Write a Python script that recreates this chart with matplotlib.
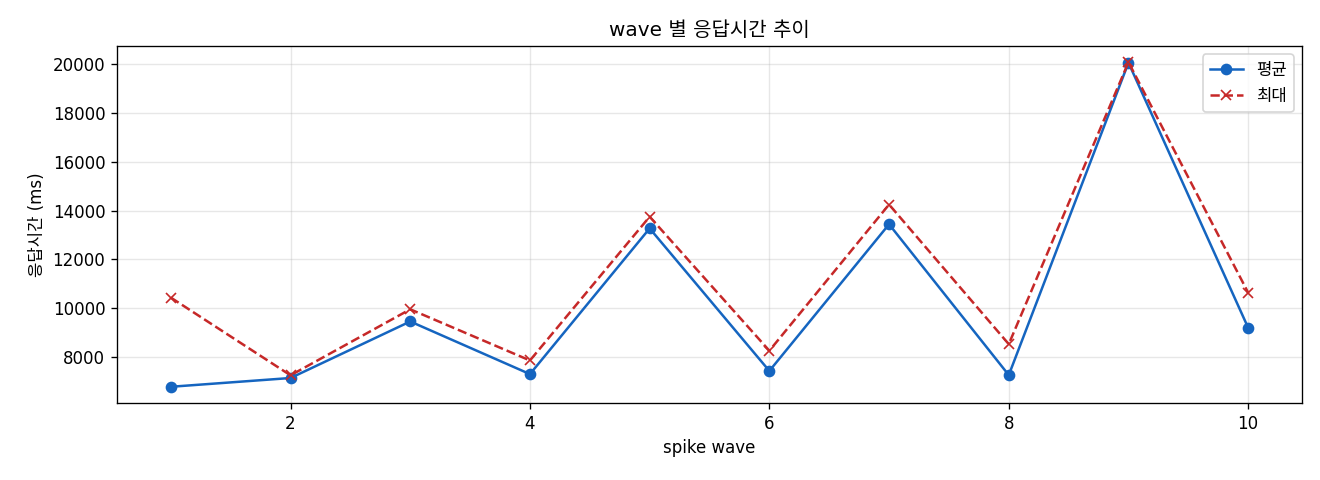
import matplotlib
matplotlib.use('Agg')
import matplotlib.pyplot as plt

plt.rcParams['font.family'] = ['DejaVu Sans', 'Noto Sans CJK KR']
plt.rcParams['axes.unicode_minus'] = False

waves = [1, 2, 3, 4, 5, 6, 7, 8, 9, 10]
avg_ms = [6770, 7130, 9450, 7290, 13270, 7420, 13440, 7250, 20070, 9190]
max_ms = [10430, 7240, 9950, 7850, 13750, 8250, 14250, 8520, 20090, 10630]

fig, ax = plt.subplots(figsize=(11, 4), dpi=120)

ax.plot(waves, avg_ms, marker='o', markersize=6, linewidth=1.5,
        color='#1565C0', label='평균')
ax.plot(waves, max_ms, marker='x', markersize=6, linewidth=1.5,
        linestyle='--', color='#C62828', label='최대')

ax.set_title('wave 별 응답시간 추이')
ax.set_xlabel('spike wave')
ax.set_ylabel('응답시간 (ms)')
ax.grid(alpha=0.3)
ax.legend(loc='upper right')

fig.subplots_adjust(left=0.0886, right=0.9864, top=0.9042, bottom=0.1604)
plt.savefig('out.png', dpi=120)
plt.close()
